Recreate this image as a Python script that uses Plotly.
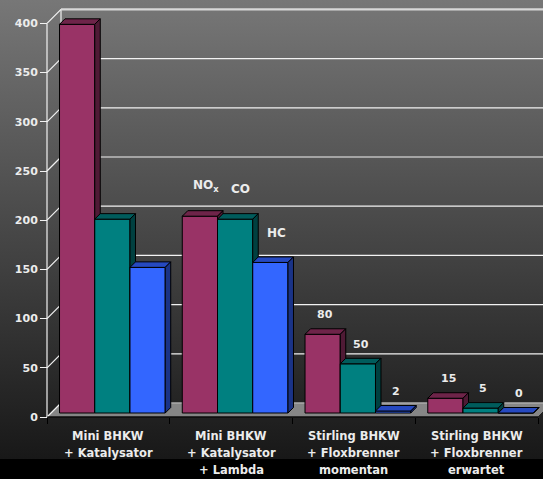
import plotly.graph_objects as go

# ---- data -------------------------------------------------------------
categories = [
    "Mini BHKW<br>+ Katalysator",
    "Mini BHKW<br>+ Katalysator<br>+ Lambda",
    "Stirling BHKW<br>+ Floxbrenner<br>momentan",
    "Stirling BHKW<br>+ Floxbrenner<br>erwartet",
]
series_names = ["NO<sub>x</sub>", "CO", "HC"]
nox = [395, 200, 80, 15]
co = [197, 197, 50, 5]
hc = [148, 153, 2, 0]
y_ticks = [0, 50, 100, 150, 200, 250, 300, 350, 400]

value_label_groups = [2, 3]   # groups carrying value labels
name_label_group = 1          # group carrying the series names

front_colors = ["#993366", "#008080", "#3366ff"]
top_colors = ["#6e2449", "#005c5c", "#2649c0"]
side_colors = ["#4f1a35", "#004040", "#1a3387"]

# ---- frame geometry ---------------------------------------------------
W, H = 543, 479
SX = 122.75          # px per category
SY = 0.984           # px per value unit
X_ORIGIN_PX = 47     # front-left corner of the floor
Y_ORIGIN_PX = 417    # front zero line
x0 = -0.5 - X_ORIGIN_PX / SX
x1 = x0 + W / SX
y0 = -(H - Y_ORIGIN_PX) / SY
y1 = Y_ORIGIN_PX / SY

WALL_DEPTH = 14.0
BAR_D0, BAR_D1 = 4.0, 9.5
GROUP_W = 0.861
n_cat = len(categories)
x_left, x_right = -0.5, n_cat - 0.5
y_top = y_ticks[-1]


def proj(x, v, d):
    """Oblique projection: push a point d pixels back into the chart."""
    return x + d / SX, v + d / SY


def poly(points, fill, line_color="black", line_width=1):
    xs = [p[0] for p in points] + [points[0][0]]
    ys = [p[1] for p in points] + [points[0][1]]
    return go.Scatter(x=xs, y=ys, mode="lines", fill="toself", fillcolor=fill,
                      line=dict(color=line_color, width=line_width),
                      hoverinfo="skip", showlegend=False)


def segments(pairs, color, width):
    xs, ys = [], []
    for (a, b) in pairs:
        xs += [a[0], b[0], None]
        ys += [a[1], b[1], None]
    return go.Scatter(x=xs, y=ys, mode="lines", line=dict(color=color, width=width),
                      hoverinfo="skip", showlegend=False)


fig = go.Figure()

# background gradient
grad_bottom = -(459 - Y_ORIGIN_PX) / SY
fig.add_trace(go.Scatter(
    x=[x0, x1, x1, x0, x0], y=[grad_bottom, grad_bottom, y1, y1, grad_bottom],
    mode="lines", fill="toself", line=dict(width=0),
    fillgradient=dict(type="vertical", colorscale=[[0, "#181818"], [1, "#777777"]]),
    hoverinfo="skip", showlegend=False))

# floor
fig.add_trace(poly([proj(x_left, 0, 0), proj(x_right, 0, 0),
                    proj(x_right, 0, WALL_DEPTH), proj(x_left, 0, WALL_DEPTH)],
                   "#868686", "#202020", 1))

# back-wall gridlines, side-wall diagonals and wall edge
grid = []
diag = []
for t in y_ticks[:-1]:
    grid.append((proj(x_left, t, WALL_DEPTH), (x1 + 1, proj(x_left, t, WALL_DEPTH)[1])))
for t in y_ticks:
    diag.append(((x_left, t), proj(x_left, t, WALL_DEPTH)))
diag.append((proj(x_left, 0, WALL_DEPTH), proj(x_left, y_top, WALL_DEPTH)))
fig.add_trace(segments(grid, "#f2f2f2", 1.2))
fig.add_trace(segments(diag, "#f2f2f2", 1.2))
fig.add_trace(segments([(proj(x_left, y_top, WALL_DEPTH),
                         (x1 + 1, proj(x_left, y_top, WALL_DEPTH)[1]))], "#d8d8d8", 2.4))

# bars
series = [nox, co, hc]
bw = GROUP_W / len(series)
for i in range(n_cat):
    for j, vals in enumerate(series):
        v = vals[i]
        xl = i - GROUP_W / 2 + j * bw
        xr = xl + bw
        fig.add_trace(poly([proj(xl, 0, BAR_D0), proj(xr, 0, BAR_D0),
                            proj(xr, v, BAR_D0), proj(xl, v, BAR_D0)], front_colors[j]))
        fig.add_trace(poly([proj(xl, v, BAR_D0), proj(xr, v, BAR_D0),
                            proj(xr, v, BAR_D1), proj(xl, v, BAR_D1)], top_colors[j]))
        fig.add_trace(poly([proj(xr, 0, BAR_D0), proj(xr, 0, BAR_D1),
                            proj(xr, v, BAR_D1), proj(xr, v, BAR_D0)], side_colors[j]))

# front axis lines
fig.add_trace(segments([((x_left, 0), (x_left, y_top))], "#f2f2f2", 1.2))
fig.add_trace(segments([((x_left, 0), (x_right, 0))], "#000000", 1.2))

annotations = []
label_font = dict(family="DejaVu Sans", size=11, color="#ececec", weight="bold")
mid_d = (BAR_D0 + BAR_D1) / 2
for i in value_label_groups:
    for j, vals in enumerate(series):
        xc = i - GROUP_W / 2 + (j + 0.5) * bw
        px, py = proj(xc, vals[i], mid_d)
        annotations.append(dict(x=px, y=py, xref="x", yref="y", text=str(vals[i]),
                                showarrow=False, yanchor="middle", yshift=17,
                                font=label_font))
for j, vals in enumerate(series):
    i = name_label_group
    xc = i - GROUP_W / 2 + (j + 0.5) * bw
    px, py = proj(xc, vals[i], mid_d)
    annotations.append(dict(x=px, y=py, xref="x", yref="y", text=series_names[j],
                            showarrow=False, yanchor="middle", yshift=27, xshift=3,
                            font=dict(family="DejaVu Sans", size=12, color="#ececec",
                                      weight="bold")))

# category labels, one annotation per line
for i, cat in enumerate(categories):
    for k, line in enumerate(cat.split("<br>")):
        ypx = 435.5 + 17.3 * k
        annotations.append(dict(x=i, y=1 - ypx / H, xref="x", yref="paper", text=line,
                                showarrow=False, yanchor="middle",
                                font=dict(family="DejaVu Sans", size=11.5,
                                          color="#ececec", weight="bold")))

fig.update_layout(
    width=W, height=H, autosize=False,
    margin=dict(l=0, r=0, t=0, b=0, pad=0),
    paper_bgcolor="#000000", plot_bgcolor="#000000",
    showlegend=False, hovermode=False,
    annotations=annotations,
    xaxis=dict(range=[x0, x1], anchor="free", position=(H - Y_ORIGIN_PX) / H,
               tickvals=[x_left + k for k in range(n_cat + 1)], ticks="outside",
               ticklen=6, tickcolor="#000000", tickwidth=1.2, showticklabels=False,
               showgrid=False, zeroline=False, showline=False, automargin=False,
               fixedrange=True),
    yaxis=dict(range=[y0, y1], anchor="free", position=X_ORIGIN_PX / W,
               tickvals=y_ticks, ticks="outside", ticklen=7, tickcolor="#f2f2f2",
               tickwidth=1.2,
               tickfont=dict(family="DejaVu Sans", size=11, color="#ececec",
                             weight="bold"),
               showgrid=False, zeroline=False, showline=False, automargin=False,
               fixedrange=True),
)

fig.write_html("out.html")
